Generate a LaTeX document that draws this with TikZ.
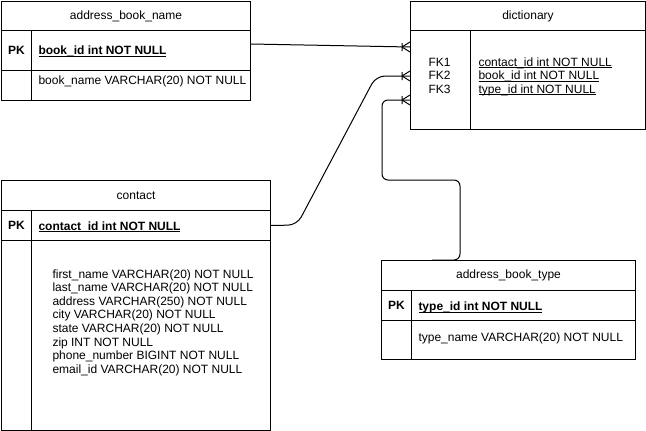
\documentclass[tikz,border=0pt]{standalone}
\usepackage{fontspec}
\setmainfont{Liberation Sans}
\newcommand{\keyfield}[1]{\underline{\smash{#1}}}

\begin{document}
\begin{tikzpicture}[x=1pt, y=-1pt, line width=1pt, font=\fontsize{12}{13.6}\selectfont,
    cell/.style={draw, inner sep=0, anchor=north west},
    txt/.style={inner sep=0, anchor=base west},
    link/.style={rounded corners=#1}]
    \useasboundingbox (0,0) rectangle (646,431);

    % address_book_name
    \node[cell, minimum width=249pt, minimum height=29pt] (abn) at (1,1) {address\_book\_name};
    \node[cell, minimum width=30pt, minimum height=40pt] (abn-pkkey) at (1,30) {\bfseries PK};
    \node[cell, minimum width=219pt, minimum height=40pt] (abn-pk) at (31,30) {};
    \node[txt] (abn-id) at (38,54.5) {\bfseries\keyfield{book\_id int NOT NULL}};
    \node[cell, minimum width=30pt, minimum height=30pt] (abn-key) at (1,70) {};
    \node[cell, minimum width=219pt, minimum height=30pt] (abn-body) at (31,70) {};
    \node[txt] (abn-name) at (38,84.5) {book\_name VARCHAR(20) NOT NULL};

    % dictionary
    \node[cell, minimum width=235pt, minimum height=29pt] (dict) at (410,1) {dictionary};
    \node[cell, minimum width=60pt, minimum height=99pt] (dict-key) at (410,30) {};
    \node[cell, minimum width=175pt, minimum height=99pt] (dict-body) at (470,30) {};
    \foreach \n/\f in {1/contact\_id,2/book\_id,3/type\_id}
    {%
        \node[txt] (dict-fk\n) at (428,52.5+13.5*\n) {FK\n};
        \node[txt] (dict-field\n) at (478,52.5+13.5*\n) {\keyfield{\f\ int NOT NULL}};
    }%

    % contact
    \node[cell, minimum width=269pt, minimum height=30pt] (ct) at (1,180) {contact};
    \node[cell, minimum width=30pt, minimum height=30pt] (ct-pkkey) at (1,210) {\bfseries PK};
    \node[cell, minimum width=239pt, minimum height=30pt] (ct-pk) at (31,210) {};
    \node[txt] (ct-id) at (38,230) {\bfseries\keyfield{contact\_id int NOT NULL}};
    \node[cell, minimum width=30pt, minimum height=190pt] (ct-key) at (1,240) {};
    \node[cell, minimum width=239pt, minimum height=190pt] (ct-body) at (31,240) {};
    \foreach \f [count=\i] in {first\_name VARCHAR(20) NOT NULL, last\_name VARCHAR(20) NOT NULL,
        address VARCHAR(250) NOT NULL, city VARCHAR(20) NOT NULL, state VARCHAR(20) NOT NULL,
        zip INT NOT NULL, phone\_number BIGINT NOT NULL, email\_id VARCHAR(20) NOT NULL}
    {%
        \node[txt] (ct-field\i) at (52,264.4+13.6*\i) {\f};
    }%

    % address_book_type
    \node[cell, minimum width=254pt, minimum height=30pt] (abt) at (381,260) {address\_book\_type};
    \node[cell, minimum width=30pt, minimum height=30pt] (abt-pkkey) at (381,290) {\bfseries PK};
    \node[cell, minimum width=224pt, minimum height=30pt] (abt-pk) at (411,290) {};
    \node[txt] (abt-id) at (418,310.5) {\bfseries\keyfield{type\_id int NOT NULL}};
    \node[cell, minimum width=30pt, minimum height=39pt] (abt-key) at (381,320) {};
    \node[cell, minimum width=224pt, minimum height=39pt] (abt-body) at (411,320) {};
    \node[txt] (abt-name) at (418,341) {type\_name VARCHAR(20) NOT NULL};

    % connectors
    \coordinate (in-book) at (410,47);
    \coordinate (in-contact) at (410,76);
    \coordinate (in-type) at (410,100);
    \draw ([yshift=6.5pt]abn-pk.east) -- (in-book);
    \draw[link=9pt] (ct-pk.east) -- (297,225) -- (376,76) -- (in-contact);
    \draw[link=6pt] ([xshift=51pt]abt.north west) -- (460,260) -- (460,180) -- (382,180) -- (382,100) -- (in-type);
    \foreach \c in {in-book,in-contact,in-type}
    {%
        \draw ([xshift=-8pt]\c) -- ([yshift=5pt]\c) ([xshift=-8pt]\c) -- ([yshift=-5pt]\c)
            ([xshift=-8pt,yshift=4pt]\c) -- ([xshift=-8pt,yshift=-4pt]\c);
    }%
\end{tikzpicture}
\end{document}
